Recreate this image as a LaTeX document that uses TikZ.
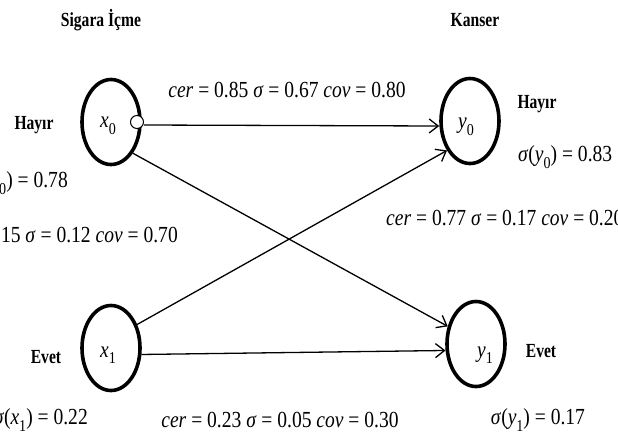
\documentclass[tikz,border=0pt]{standalone}
\usepackage{fontspec}
\setmainfont{Liberation Serif}
\usetikzlibrary{shapes.geometric,arrows.meta}
\newcommand\sqz[1]{\scalebox{0.78}[1]{#1}}
\newcommand\sqm[1]{\scalebox{0.85}[1]{#1}}
\newcommand\sbs[1]{\raisebox{-0.28em}{\scalebox{0.72}{#1}}}
\begin{document}
\begin{tikzpicture}[x=1pt,y=-1pt,
  state/.style={ellipse,draw,line width=3.6pt,minimum width=58pt,minimum height=85pt,inner sep=0pt},
  lbl/.style={font=\fontsize{20}{24}\selectfont\bfseries,inner sep=0pt},
  mth/.style={font=\fontsize{23}{27}\selectfont,inner sep=0pt},
  conn/.style={line width=1.3pt,-{Straight Barb[length=9pt,width=14pt,line width=1.3pt]}}]
\useasboundingbox (0,0) rectangle (618,437);
\clip (0,0) rectangle (618,437);
% titles
\node[lbl] (t1) at (101,20) {\sqz{Sigara İçme}};
\node[lbl] (t2) at (475,20) {\sqz{Kanser}};
% states
\node[state] (x0) at (111,122) {};
\node[mth] (x0l) at (108,126) {\sqm{\textit{x}\sbs{0}}};
\node[state] (y0) at (470,121) {};
\node[mth] (y0l) at (466,127) {\sqm{\textit{y}\sbs{0}}};
\node[state] (x1) at (111,348) {};
\node[mth] (x1l) at (108,355) {\sqm{\textit{x}\sbs{1}}};
\node[state] (y1) at (476,344) {};
\node[mth] (y1l) at (485,355) {\sqm{\textit{y}\sbs{1}}};
\node[circle,draw,fill=white,line width=1pt,minimum size=13pt,inner sep=0pt] (c0) at (137,122) {};
% connectors
\draw[conn] ([yshift=-3pt]c0.east) -- ([yshift=-5pt]y0.west);
\draw[conn] (x0.-55) -- (y1.148);
\draw[conn] (x1.42) -- (y0.232);
\draw[conn] (x1.-12) -- (y1.192);
% labels
\node[lbl] (h0) at (34,125) {\sqz{Hayır}};
\node[lbl] (h1) at (537,104) {\sqz{Hayır}};
\node[lbl] (e0) at (46,357) {\sqz{Evet}};
\node[lbl] (e1) at (541,351) {\sqz{Evet}};
\node[mth] (m1) at (287,90) {\sqm{\textit{cer} = 0.85 \textit{σ} = 0.67 \textit{cov} = 0.80}};
\node[mth,anchor=east] (m2) at (68,183) {\sqm{\textit{σ}(\textit{x}\sbs{0}) = 0.78}};
\node[mth,anchor=east] (m3) at (178,235) {\sqm{\textit{cer} = 0.15 \textit{σ} = 0.12 \textit{cov} = 0.70}};
\node[mth,anchor=west] (m4) at (518,157) {\sqm{\textit{σ}(\textit{y}\sbs{0}) = 0.83}};
\node[mth,anchor=west] (m5) at (386,218) {\sqm{\textit{cer} = 0.77 \textit{σ} = 0.17 \textit{cov} = 0.20}};
\node[mth,anchor=east] (m6) at (88,420) {\sqm{\textit{σ}(\textit{x}\sbs{1}) = 0.22}};
\node[mth] (m7) at (280,420) {\sqm{\textit{cer} = 0.23 \textit{σ} = 0.05 \textit{cov} = 0.30}};
\node[mth] (m8) at (538,420) {\sqm{\textit{σ}(\textit{y}\sbs{1}) = 0.17}};
\end{tikzpicture}
\end{document}
